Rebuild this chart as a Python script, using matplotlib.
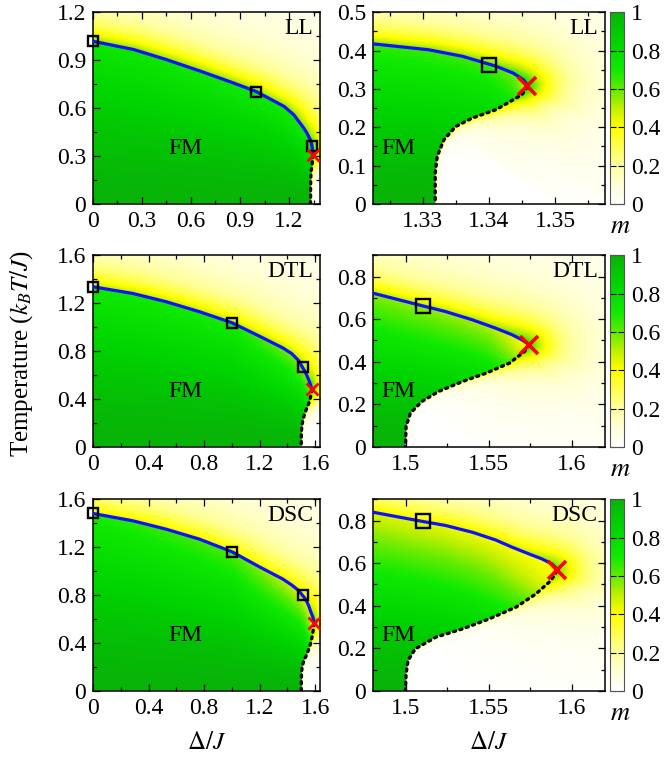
"""Phase diagrams of m(Delta, T) for the LL, DTL and DSC models, full range and zoom near the end point."""

from __future__ import annotations

import matplotlib
matplotlib.use("Agg")
import matplotlib.pyplot as plt
import numpy as np
from matplotlib.colors import LinearSegmentedColormap
from matplotlib.path import Path
from matplotlib.ticker import FuncFormatter, MultipleLocator

plt.rcParams["font.family"] = ["Liberation Serif", "DejaVu Serif"]
plt.rcParams["mathtext.fontset"] = "stix"

# ---------------------------------------------------------------------------
# Values
# ---------------------------------------------------------------------------

MODELS = ["LL", "DTL", "DSC"]

# first-order line (blue)
LL_BLUE_D = [0.0, 0.25, 0.45, 0.66, 0.86, 1.0, 1.17, 1.229, 1.29, 1.31, 1.3222, 1.3309, 1.336, 1.3411, 1.3437, 1.3452, 1.3458]
LL_BLUE_T = [1.018, 0.966, 0.903, 0.830, 0.757, 0.703, 0.610, 0.558, 0.475, 0.443, 0.418, 0.402, 0.385, 0.359, 0.341, 0.324, 0.311]
DTL_BLUE_D = [0.0, 0.287, 0.527, 0.766, 1.0, 1.198, 1.365, 1.43, 1.48, 1.5092, 1.5237, 1.540, 1.554, 1.564, 1.570, 1.5735]
DTL_BLUE_T = [1.337, 1.281, 1.212, 1.129, 1.037, 0.925, 0.828, 0.780, 0.722, 0.664, 0.636, 0.597, 0.558, 0.527, 0.503, 0.485]
DSC_BLUE_D = [0.0, 0.287, 0.527, 0.766, 1.0, 1.198, 1.365, 1.43, 1.48, 1.509, 1.5237, 1.540, 1.554, 1.564, 1.574, 1.582, 1.588, 1.5905]
DSC_BLUE_T = [1.481, 1.420, 1.350, 1.267, 1.162, 1.036, 0.935, 0.885, 0.839, 0.797, 0.777, 0.745, 0.709, 0.675, 0.644, 0.620, 0.597, 0.578]

# lower boundary (dotted), from the end point down to T = 0
LL_DOT_D = [1.3458, 1.345, 1.3411, 1.3375, 1.335, 1.3332, 1.3322, 1.3319, 1.3319]
LL_DOT_T = [0.305, 0.285, 0.246, 0.224, 0.202, 0.167, 0.124, 0.080, 0.0]
DTL_DOT_D = [1.5743, 1.5715, 1.5625, 1.5484, 1.5343, 1.5197, 1.5096, 1.5026, 1.5000, 1.4996]
DTL_DOT_T = [0.478, 0.448, 0.394, 0.347, 0.308, 0.261, 0.214, 0.159, 0.097, 0.0]
DSC_DOT_D = [1.591, 1.5876, 1.5785, 1.5665, 1.5504, 1.5343, 1.5181, 1.5056, 1.5012, 1.5000, 1.4996]
DSC_DOT_T = [0.562, 0.519, 0.456, 0.394, 0.339, 0.292, 0.253, 0.198, 0.144, 0.081, 0.0]

# end points (red crosses)
LL_CEP = (1.3458, 0.308)
DTL_CEP = (1.5743, 0.480)
DSC_CEP = (1.591, 0.566)

# simulation points (open squares)
LL_SQ_D = [0.0, 1.0, 1.34]
LL_SQ_T = [1.018, 0.703, 0.363]
DTL_SQ_D = [0.0, 1.0, 1.51]
DTL_SQ_T = [1.337, 1.037, 0.664]
DSC_SQ_D = [0.0, 1.0, 1.51]
DSC_SQ_T = [1.481, 1.162, 0.800]

# magnetisation just below the blue line
LL_MTOP_D = [0.0, 1.0, 1.30, 1.34, 1.3458]
LL_MTOP_M = [0.72, 0.70, 0.68, 0.64, 0.55]
DTL_MTOP_D = [0.0, 1.0, 1.48, 1.55, 1.5743]
DTL_MTOP_M = [0.70, 0.68, 0.56, 0.52, 0.42]
DSC_MTOP_D = [0.0, 1.0, 1.48, 1.55, 1.591]
DSC_MTOP_M = [0.68, 0.62, 0.46, 0.42, 0.38]

# rough look of the map around each line (yellow band height, yellow patch round the cross)
BAND_AMP = {"LL": 0.36, "DTL": 0.30, "DSC": 0.24}
TONGUE = {"LL": 0.02, "DTL": 0.06, "DSC": 0.15}

M_TICKS = [0, 0.2, 0.4, 0.6, 0.8, 1]

CMAP = LinearSegmentedColormap.from_list(
    "m_map",
    [(0.0, "#ffffff"), (0.1, "#ffffd8"), (0.2, "#ffffa0"), (0.4, "#ffff00"),
     (0.5, "#c0f000"), (0.6, "#60ec00"), (0.7, "#10ea00"), (0.85, "#00d400"),
     (1.0, "#08b408")],
)

# panel frames: xlim, ylim, x major/minor, y major/minor
LEFT_FRAME = {
    "LL": ((0.0, 1.39), (0.0, 1.2), 0.3, 0.15, 0.3, 0.15),
    "DTL": ((0.0, 1.635), (0.0, 1.6), 0.4, 0.2, 0.4, 0.2),
    "DSC": ((0.0, 1.635), (0.0, 1.6), 0.4, 0.2, 0.4, 0.2),
}
RIGHT_FRAME = {
    "LL": ((1.3225, 1.3575), (0.0, 0.5), 0.01, 0.005, 0.1, 0.05),
    "DTL": ((1.48, 1.62), (0.0, 0.9), 0.05, 0.025, 0.2, 0.1),
    "DSC": ((1.48, 1.62), (0.0, 0.9), 0.05, 0.025, 0.2, 0.1),
}


def _model(name: str) -> dict:
    g = globals()
    return {
        "name": name,
        "blue_d": np.array(g[f"{name}_BLUE_D"]), "blue_t": np.array(g[f"{name}_BLUE_T"]),
        "dot_d": np.array(g[f"{name}_DOT_D"]), "dot_t": np.array(g[f"{name}_DOT_T"]),
        "cep": g[f"{name}_CEP"],
        "sq_d": g[f"{name}_SQ_D"], "sq_t": g[f"{name}_SQ_T"],
        "mtop_d": g[f"{name}_MTOP_D"], "mtop_m": g[f"{name}_MTOP_M"],
    }


# ---------------------------------------------------------------------------
# Magnetisation map built around the read boundaries
# ---------------------------------------------------------------------------

def _m_field(mod: dict, xlim, ylim, n: int = 300) -> np.ndarray:
    D, T = np.meshgrid(np.linspace(*xlim, n), np.linspace(*ylim, n))
    bd, bt, dd, dt = mod["blue_d"], mod["blue_t"], mod["dot_d"], mod["dot_t"]
    cx, ct = mod["cep"]
    name = mod["name"]

    # distance to the end point in units of the zoomed frame
    zx, zy = RIGHT_FRAME[name][0], RIGHT_FRAME[name][1]
    rx = np.hypot((D - cx) / (zx[1] - zx[0]), (T - ct) / (zy[1] - zy[0]))

    verts = list(zip(bd, bt)) + list(zip(dd, dt)) + [(-10, 0.0), (-10, bt[0])]
    inside = Path(verts).contains_points(np.c_[D.ravel(), T.ravel()]).reshape(D.shape)

    tb = np.interp(D, bd, bt)
    mt = np.interp(D, mod["mtop_d"], mod["mtop_m"])
    m_in = 1 - (1 - mt) * np.clip(T / tb, 0, 1) ** 1.5
    m_in = m_in - (m_in - 0.4) * np.exp(-rx / TONGUE[name])

    sx, sy = xlim[1] - xlim[0], ylim[1] - ylim[0]
    px = ((D - xlim[0]) / sx).ravel()[:, None]
    py = ((T - ylim[0]) / sy).ravel()[:, None]
    cxs = (np.r_[bd, dd] - xlim[0]) / sx
    cys = (np.r_[bt, dt] - ylim[0]) / sy
    ax_, ay_ = cxs[:-1], cys[:-1]
    vx, vy = cxs[1:] - ax_, cys[1:] - ay_
    tt = np.clip(((px - ax_) * vx + (py - ay_) * vy) / (vx ** 2 + vy ** 2 + 1e-12), 0, 1)
    qx, qy = ax_ + tt * vx, ay_ + tt * vy
    dist = np.hypot(px - qx, py - qy)
    k = np.argmin(dist, axis=1)
    rows = np.arange(len(k))
    d = dist[rows, k].reshape(D.shape)
    tq = (qy[rows, k] * sy + ylim[0]).reshape(D.shape)
    w = np.clip(tq / ct, 0, 1)
    band = BAND_AMP[name] * (0.5 + 0.5 * w) * np.exp(-d / (0.008 + 0.07 * w ** 4))
    cream = 0.22 * w ** 4 * np.exp(-d / 0.35)
    halo = 0.2 * np.exp(-rx / 0.12)
    m_out = band + cream + halo

    return np.clip(np.where(inside, m_in, m_out), 0, 1)


# ---------------------------------------------------------------------------
# Figure
# ---------------------------------------------------------------------------

FS = 17
FMT = FuncFormatter(lambda v, p: f"{v:g}")


def _panel(ax, mod: dict, frame, zoom: bool):
    xlim, ylim, xmaj, xmin, ymaj, ymin = frame
    img = ax.imshow(_m_field(mod, xlim, ylim), origin="lower", extent=(*xlim, *ylim),
                    aspect="auto", cmap=CMAP, vmin=0, vmax=1, interpolation="bilinear")
    ax.plot(mod["blue_d"], mod["blue_t"], color="#1010ff", lw=2.3, zorder=3,
            solid_joinstyle="round")
    ax.plot(mod["dot_d"], mod["dot_t"], color="black", lw=2.4, ls=(0, (0.6, 1.4)),
            dash_capstyle="round", zorder=3)
    ax.plot(mod["sq_d"], mod["sq_t"], ls="none", marker="s", mfc="none", mec="black",
            ms=10 if zoom else 7.5, mew=1.7, zorder=5, clip_on=False)
    ax.plot(*mod["cep"], ls="none", marker="x", color="red", ms=13 if zoom else 8,
            mew=2.6 if zoom else 2.0, zorder=6)
    ax.set_xlim(*xlim)
    ax.set_ylim(*ylim)
    ax.xaxis.set_major_locator(MultipleLocator(xmaj))
    ax.xaxis.set_minor_locator(MultipleLocator(xmin))
    ax.yaxis.set_major_locator(MultipleLocator(ymaj))
    ax.yaxis.set_minor_locator(MultipleLocator(ymin))
    ax.xaxis.set_major_formatter(FMT)
    ax.yaxis.set_major_formatter(FMT)
    ax.tick_params(which="both", direction="in", top=True, right=True, labelsize=FS, width=0.9)
    ax.tick_params(which="major", length=5, pad=5)
    ax.tick_params(which="minor", length=3)
    for s in ax.spines.values():
        s.set_linewidth(1.1)
    ax.text(0.97, 0.915, mod["name"], transform=ax.transAxes, ha="right", va="center", fontsize=FS)
    ax.text(0.108 if zoom else 0.405, 0.29, "FM", transform=ax.transAxes,
            ha="center", va="center", fontsize=FS)
    return img


def main() -> None:
    fig = plt.figure(figsize=(6.64, 7.61), dpi=100)
    bottoms = [0.732, 0.4126, 0.092]
    h = 0.252
    for name, b in zip(MODELS, bottoms):
        mod = _model(name)
        axl = fig.add_axes([0.140, b, 0.342, h])
        _panel(axl, mod, LEFT_FRAME[name], zoom=False)
        axr = fig.add_axes([0.5617, b, 0.349, h])
        img = _panel(axr, mod, RIGHT_FRAME[name], zoom=True)
        cax = fig.add_axes([0.9187, b, 0.0211, h])
        cb = fig.colorbar(img, cax=cax, ticks=M_TICKS)
        cb.ax.yaxis.set_major_formatter(FMT)
        cb.ax.tick_params(direction="in", left=True, right=True, length=4, width=0.8,
                          labelsize=FS, pad=5)
        cb.outline.set_linewidth(0.8)
        cb.outline.set_edgecolor("#555555")
        fig.text(0.934, b - 0.03, "$m$", ha="center", va="center", fontsize=FS + 2)

    fig.text(0.033, 0.535, "Temperature ($k_BT/J$)", rotation=90, ha="center", va="center", fontsize=FS + 1)
    fig.text(0.311, 0.024, r"$\Delta/J$", ha="center", va="center", fontsize=FS + 1)
    fig.text(0.736, 0.024, r"$\Delta/J$", ha="center", va="center", fontsize=FS + 1)

    fig.savefig("out.png", dpi=100)
    plt.close(fig)


if __name__ == "__main__":
    main()
